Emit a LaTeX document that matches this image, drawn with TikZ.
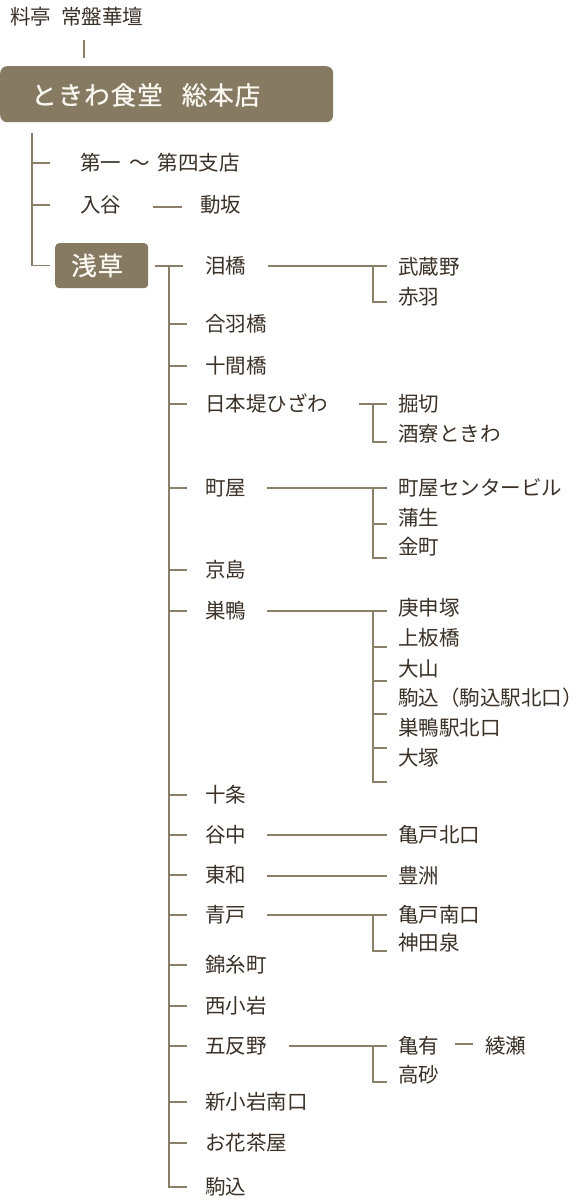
\documentclass[tikz,border=0pt]{standalone}
\usepackage{fontspec}
\newfontfamily\jp{Noto Sans CJK JP}
\newfontfamily\jpwide[LetterSpace=4,FakeBold=0.8]{Noto Sans CJK JP}
\usetikzlibrary{calc}
\definecolor{lncol}{HTML}{8A7F68}
\definecolor{boxcol}{HTML}{867A62}
\definecolor{txtcol}{HTML}{3A3128}
\definecolor{boxtxt}{HTML}{FAF7F0}
\tikzset{
  conn/.style={draw=lncol, line width=1.5pt},
  lbl/.style={anchor=west, inner sep=0pt, text=txtcol, font=\jp\fontsize{20.5}{24}\selectfont, text height=18pt, text depth=2.5pt},
  panel/.style={fill=boxcol, draw=none, inner sep=0pt},
  paneltext/.style={anchor=west, inner sep=0pt, text=boxtxt, font=\jpwide\fontsize{25.5}{30}\selectfont, text height=22.4pt, text depth=3.1pt},
}
\begin{document}
\begin{tikzpicture}[x=1pt,y=-1pt]
\useasboundingbox (0,0) rectangle (583,1200);
\fill[white] (0,0) rectangle (583,1200);

% header and main office
\node[lbl] (header) at (10,17) {料亭\hspace{10pt}常盤華壇};
\node[panel, rounded corners=7pt, anchor=north west, minimum width=333pt, minimum height=56pt] (hqbox) at (0,66) {};
\node[paneltext] (hq) at (31,95) {ときわ食堂\hspace{19pt}総本店};
\draw[conn] ($(header.west)+(74,23)$) -- ($(hqbox.north west)+(84,-8)$);

% first level
\node[lbl] (daiichi) at (80,163) {第一\hspace{8pt}～\hspace{8pt}第四支店};
\node[lbl] (iriya) at (80,205) {入谷};
\node[lbl] (dozaka) at (200,205) {動坂};
\node[panel, rounded corners=4pt, anchor=north west, minimum width=93pt, minimum height=45pt] (asabox) at (55,243) {};
\node[paneltext] (asakusa) at (71,265.5) {浅草};
\draw[conn] ($(hqbox.south west)+(32,11)$) |- ($(asabox.west)+(-5,0)$);
\foreach \n in {daiichi,iriya} \draw[conn] ($(\n.west)+(-48,0)$) -- ($(\n.west)+(-30,0)$);
\draw[conn] ($(iriya.east)+(32,2)$) -- ($(dozaka.west)+(-18,2)$);

% second level
\node[lbl] (namida) at (205,266) {泪橋};
\node[lbl] (kappa) at (205,324) {合羽橋};
\node[lbl] (jukken) at (205,366) {十間橋};
\node[lbl] (nihon) at (205,404) {日本堤ひざわ};
\node[lbl] (machiya) at (205,488) {町屋};
\node[lbl] (keijima) at (205,570) {京島};
\node[lbl] (sugamo) at (205,611) {巣鴨};
\node[lbl] (jujo) at (205,795) {十条};
\node[lbl] (yanaka) at (205,835) {谷中};
\node[lbl] (towa) at (205,875) {東和};
\node[lbl] (aoto) at (205,915) {青戸};
\node[lbl] (kinshi) at (205,965) {錦糸町};
\node[lbl] (nishi) at (205,1006) {西小岩};
\node[lbl] (gotan) at (205,1046) {五反野};
\node[lbl] (shinko) at (205,1102) {新小岩南口};
\node[lbl] (ohana) at (205,1143) {お花茶屋};
\node[lbl] (komagome) at (205,1187) {駒込};

\draw[conn] ($(asabox.east |- namida.west)+(7,0)$) -- ($(namida.west)+(-22,0)$);
\draw[conn] ($(namida.west)+(-36,0)$) |- ($(komagome.west)+(-18,0)$);
\foreach \n in {kappa,jukken,nihon,machiya,keijima,sugamo,jujo,yanaka,towa,aoto,kinshi,nishi,gotan,shinko,ohana}
  \draw[conn] ($(\n.west)+(-36,0)$) -- ($(\n.west)+(-18,0)$);

% third level
\node[lbl] (musashino) at (398,267) {武蔵野};
\node[lbl] (akabane) at (398,297) {赤羽};
\node[lbl] (horikiri) at (398,404) {掘切};
\node[lbl] (shuryo) at (398,434) {酒寮ときわ};
\node[lbl] (mcenter) at (398,488) {町屋センタービル};
\node[lbl] (gamo) at (398,518) {蒲生};
\node[lbl] (kanamachi) at (398,547) {金町};
\node[lbl] (koshin) at (398,608) {庚申塚};
\node[lbl] (kamiita) at (398,638) {上板橋};
\node[lbl] (oyama) at (398,669) {大山};
\node[lbl] (komaN) at (398,698) {駒込（駒込駅北口）};
\node[lbl] (sugaN) at (398,728) {巣鴨駅北口};
\node[lbl] (otsuka) at (398,758) {大塚};
\node[lbl] (kameN) at (398,835) {亀戸北口};
\node[lbl] (toyosu) at (398,876) {豊洲};
\node[lbl] (kameS) at (398,915) {亀戸南口};
\node[lbl] (kandaizumi) at (398,943) {神田泉};
\node[lbl] (kameari) at (398,1046) {亀有};
\node[lbl] (ayase) at (485,1046) {綾瀬};
\node[lbl] (takasago) at (398,1075) {高砂};

% namida group
\draw[conn] ($(namida.east)+(22,0)$) -- ($(namida.east -| musashino.west)+(-11,0)$);
\draw[conn] ($(namida.east -| musashino.west)+(-25,0)$) |- ($(akabane.west)+(-11,5)$);
% nihon group
\draw[conn] ($(nihon.east)+(31,0)$) -- ($(nihon.east -| horikiri.west)+(-11,0)$);
\draw[conn] ($(nihon.east -| horikiri.west)+(-25,0)$) |- ($(shuryo.west)+(-11,8)$);
% machiya group
\draw[conn] ($(machiya.east)+(21,0)$) -- ($(machiya.east -| mcenter.west)+(-11,0)$);
\draw[conn] ($(machiya.east -| mcenter.west)+(-25,0)$) |- ($(kanamachi.west)+(-11,11)$);
\draw[conn] ($(gamo.west)+(-25,6)$) -- ($(gamo.west)+(-11,6)$);
% sugamo group
\draw[conn] ($(sugamo.east)+(21,0)$) -- ($(sugamo.east -| koshin.west)+(-11,0)$);
\draw[conn] ($(sugamo.east -| koshin.west)+(-25,0)$) |- ($(otsuka.west)+(-11,24)$);
\draw[conn] ($(kamiita.west)+(-25,9)$) -- ($(kamiita.west)+(-11,9)$);
\draw[conn] ($(oyama.west)+(-25,12)$) -- ($(oyama.west)+(-11,12)$);
\draw[conn] ($(komaN.west)+(-25,16)$) -- ($(komaN.west)+(-11,16)$);
\draw[conn] ($(sugaN.west)+(-25,20)$) -- ($(sugaN.west)+(-11,20)$);
% yanaka, towa
\draw[conn] ($(yanaka.east)+(21,0)$) -- ($(kameN.west)+(-11,0)$);
\draw[conn] ($(towa.east |- toyosu.west)+(21,0)$) -- ($(toyosu.west)+(-11,0)$);
% aoto group
\draw[conn] ($(aoto.east)+(21,0)$) -- ($(aoto.east -| kameS.west)+(-11,0)$);
\draw[conn] ($(aoto.east -| kameS.west)+(-25,0)$) |- ($(kandaizumi.west)+(-11,8)$);
% gotan group
\draw[conn] ($(gotan.east)+(22,0)$) -- ($(gotan.east -| kameari.west)+(-11,0)$);
\draw[conn] ($(gotan.east -| kameari.west)+(-25,0)$) |- ($(takasago.west)+(-11,7)$);
\draw[conn] ($(kameari.east)+(16,-2)$) -- ($(ayase.west)+(-12,-2)$);
\end{tikzpicture}
\end{document}
